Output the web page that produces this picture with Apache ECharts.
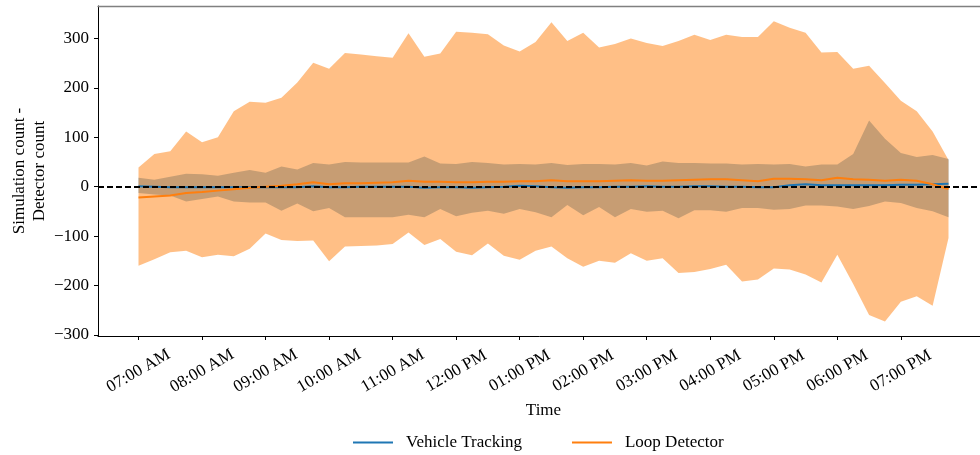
<!DOCTYPE html>
<html>
<head>
<meta charset="utf-8">
<script src="https://cdn.jsdelivr.net/npm/echarts@6/dist/echarts.min.js"></script>
<style>
html, body { margin: 0; padding: 0; background: #fff; }
#chart { width: 980px; height: 455px; }
</style>
</head>
<body>
<div id="chart"></div>
<script>
// 15 minute bins, 07:00 - 19:45
var times = ['07:00', '07:15', '07:30', '07:45', '08:00', '08:15', '08:30', '08:45',
	'09:00', '09:15', '09:30', '09:45', '10:00', '10:15', '10:30', '10:45',
	'11:00', '11:15', '11:30', '11:45', '12:00', '12:15', '12:30', '12:45',
	'13:00', '13:15', '13:30', '13:45', '14:00', '14:15', '14:30', '14:45',
	'15:00', '15:15', '15:30', '15:45', '16:00', '16:15', '16:30', '16:45',
	'17:00', '17:15', '17:30', '17:45', '18:00', '18:15', '18:30', '18:45',
	'19:00', '19:15', '19:30', '19:45'];

// Vehicle Tracking: mean and band
var vtMean = [1, 0, -1, -1, -1, -1, -1, -1, -1, -1, -1, 1, -1, -1, 0, 0,
	0, 0, -2, -1, -1, -2, -1, 0, 2, 1, -1, -2, -1, -1, 0, 0,
	1, 0, 0, 1, 1, 0, 0, -1, -1, 3, 5, 3, 3, 3, 3, 3,
	4, 4, 5, 6];
var vtUpper = [18, 14, 20, 26, 25, 22, 28, 34, 28, 41, 35, 48, 45, 50, 49, 49,
	49, 49, 61, 47, 46, 50, 48, 45, 46, 45, 48, 44, 46, 46, 45, 48,
	43, 51, 48, 48, 47, 47, 45, 46, 45, 46, 41, 45, 45, 66, 134, 97,
	68, 60, 64, 56];
var vtLower = [-13, -16, -18, -30, -25, -20, -30, -32, -32, -49, -34, -50, -43, -62, -62, -62,
	-62, -57, -62, -45, -60, -53, -49, -55, -45, -52, -62, -37, -58, -41, -62, -45,
	-51, -49, -64, -48, -48, -51, -43, -43, -47, -45, -38, -38, -40, -45, -39, -30,
	-33, -43, -50, -62];

// Loop Detector: mean and band
var ldMean = [-22, -20, -18, -13, -11, -8, -5, -2, 0, 2, 5, 9, 5, 7, 7, 8,
	9, 12, 10, 10, 9, 9, 10, 10, 11, 11, 13, 11, 11, 11, 12, 13,
	12, 12, 13, 14, 15, 15, 13, 11, 16, 16, 15, 13, 18, 15, 14, 12,
	14, 12, 5, -5];
var ldUpper = [39, 66, 72, 112, 90, 100, 153, 172, 170, 180, 211, 251, 239, 271, 268, 264,
	261, 311, 263, 270, 314, 312, 309, 286, 274, 293, 333, 295, 312, 282, 289, 300,
	291, 285, 295, 308, 297, 308, 303, 303, 335, 322, 312, 272, 273, 239, 245, 210,
	174, 153, 112, 54];
var ldLower = [-160, -147, -133, -130, -143, -138, -141, -126, -95, -108, -110, -109, -151, -121, -120, -119,
	-116, -93, -118, -106, -132, -139, -115, -140, -148, -130, -121, -145, -162, -150, -154, -135,
	-150, -145, -175, -173, -167, -158, -192, -188, -166, -168, -178, -194, -138, -197, -260, -273,
	-233, -222, -241, -104];

var tickMinutes = [420, 480, 540, 600, 660, 720, 780, 840, 900, 960, 1020, 1080, 1140];
var tickLabels = ['07:00 AM', '08:00 AM', '09:00 AM', '10:00 AM', '11:00 AM', '12:00 PM',
	'01:00 PM', '02:00 PM', '03:00 PM', '04:00 PM', '05:00 PM', '06:00 PM', '07:00 PM'];
var yTicks = [-300, -200, -100, 0, 100, 200, 300];

var fontName = 'Liberation Serif';
var blue = '#1f77b4';
var orange = '#ff7f0e';

function toMin (s) {
	return parseInt(s.slice(0, 2), 10) * 60 + parseInt(s.slice(3), 10);
}
function pairs (arr) {
	return times.map(function (t, i) { return [toMin(t), arr[i]]; });
}
function bandData (lo, hi) {
	return times.map(function (t, i) { return [toMin(t), lo[i], hi[i]]; });
}

// fill_between: one polygon through upper values then back along lower values
function bandRenderer (color) {
	return function (params, api) {
		if (params.dataIndex !== 0) return null;
		var n = params.dataInsideLength;
		var pts = [];
		var i;
		for (i = 0; i < n; i++) pts.push(api.coord([api.value(0, i), api.value(2, i)]));
		for (i = n - 1; i >= 0; i--) pts.push(api.coord([api.value(0, i), api.value(1, i)]));
		return {
			type: 'polygon',
			shape: { points: pts },
			style: { fill: color, opacity: 0.5 }
		};
	};
}

var myChart = echarts.init(document.getElementById('chart'));

var option = {
	animation: false,
	textStyle: { fontFamily: fontName },
	grid: {
		left: 98,
		top: 6,
		width: 891,
		height: 330,
		outerBoundsMode: 'none',
		containLabel: false
	},
	legend: {
		left: 348,
		top: 429,
		itemWidth: 40,
		itemHeight: 2,
		itemGap: 50,
		icon: 'rect',
		data: ['Vehicle Tracking', 'Loop Detector'],
		textStyle: { fontFamily: fontName, fontSize: 17, color: '#000', padding: [0, 0, 0, 8] }
	},
	xAxis: [{
		type: 'value',
		min: 381.75,
		max: 1223.25,
		name: 'Time',
		nameLocation: 'middle',
		nameGap: 66,
		nameMoveOverlap: false,
		nameTextStyle: { fontFamily: fontName, fontSize: 17, color: '#000' },
		axisLine: { onZero: false, lineStyle: { color: '#000', width: 1 } },
		axisTick: { customValues: tickMinutes, length: 4, lineStyle: { color: '#000' } },
		axisLabel: {
			customValues: tickMinutes,
			rotate: 30,
			align: 'center',
			verticalAlign: 'middle',
			margin: 35,
			fontFamily: fontName,
			fontSize: 17,
			color: '#000',
			formatter: function (v) {
				var k = tickMinutes.indexOf(v);
				return k >= 0 ? tickLabels[k] : '';
			}
		},
		splitLine: { show: false }
	}, {
		type: 'value',
		position: 'top',
		min: 381.75,
		max: 1223.25,
		axisLine: { onZero: false, lineStyle: { color: '#808080', width: 1.3 } },
		axisTick: { show: false },
		axisLabel: { show: false },
		splitLine: { show: false }
	}],
	yAxis: {
		type: 'value',
		min: -302.5,
		max: 366,
		name: 'Simulation count -\nDetector count',
		nameLocation: 'middle',
		nameGap: 48,
		nameMoveOverlap: false,
		nameTextStyle: { fontFamily: fontName, fontSize: 17, color: '#000', lineHeight: 20 },
		axisLine: { show: true, onZero: false, lineStyle: { color: '#000', width: 1 } },
		axisTick: { show: true, customValues: yTicks, length: 4, lineStyle: { color: '#000' } },
		axisLabel: {
			customValues: yTicks,
			margin: 9,
			fontFamily: fontName,
			fontSize: 17,
			color: '#000',
			formatter: function (v) { return v < 0 ? '\u2212' + (-v) : String(v); }
		},
		splitLine: { show: false }
	},
	series: [{
		name: 'vt-band',
		type: 'custom',
		data: bandData(vtLower, vtUpper),
		encode: { x: 0, y: [1, 2] },
		renderItem: bandRenderer(blue),
		silent: true,
		z: 1
	}, {
		name: 'ld-band',
		type: 'custom',
		data: bandData(ldLower, ldUpper),
		encode: { x: 0, y: [1, 2] },
		renderItem: bandRenderer(orange),
		silent: true,
		z: 2
	}, {
		name: 'Vehicle Tracking',
		type: 'line',
		data: pairs(vtMean),
		symbol: 'none',
		color: blue,
		lineStyle: { color: blue, width: 2 },
		z: 3
	}, {
		name: 'Loop Detector',
		type: 'line',
		data: pairs(ldMean),
		symbol: 'none',
		color: orange,
		lineStyle: { color: orange, width: 2 },
		z: 4,
		markLine: {
			silent: true,
			symbol: 'none',
			label: { show: false },
			lineStyle: { color: '#000', width: 2, type: [6, 3] },
			data: [{ yAxis: 0 }]
		}
	}]
};

myChart.setOption(option);
</script>
</body>
</html>
